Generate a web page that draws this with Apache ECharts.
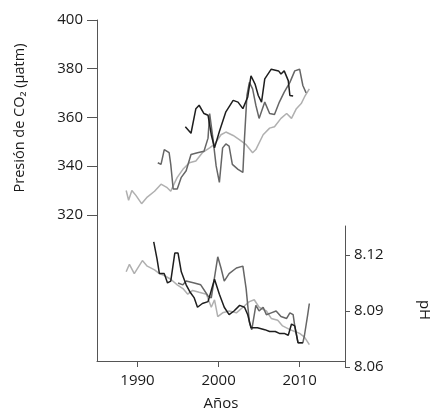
<!DOCTYPE html>
<html>
<head>
<meta charset="utf-8">
<style>html,body{margin:0;padding:0;background:#fff}#c{width:434px;height:416px}</style>
<script src="https://cdn.jsdelivr.net/npm/echarts@6/dist/echarts.min.js"></script>
</head>
<body>
<div id="c"></div>
<script>
// ---- Data ----
var xTicks = [1990, 2000, 2010];
var co2Ticks = [320, 340, 360, 380, 400];
var phTicks = [8.06, 8.09, 8.12];

// CO2 (µatm)
var co2LightYears = [1988.6,1988.9,1989.3,1989.8,1990.5,1991.2,1992.1,1992.9,1993.6,1994.1,1994.5,1994.9,1995.6,1996.4,1997.2,1998.0,1998.9,1999.5,2000.3,2000.9,2001.8,2002.6,2003.4,2004.2,2004.6,2005.5,2006.3,2006.9,2007.7,2008.4,2009.0,2009.6,2010.2,2010.6,2011.2];
var co2LightVals  = [330,326,330,328,324.6,327.3,329.7,332.6,331.3,329.7,332.6,335.4,338.7,341.4,342.1,345.5,347.5,349,352.9,354,352.6,350.8,348.8,345.5,346.8,352.9,355.6,356.2,359.6,361.6,359.6,363.6,365.7,368.4,371.7];

var co2BlackYears = [1995.9,1996.6,1997.2,1997.6,1998.2,1998.7,1999.1,1999.5,2000.1,2000.9,2001.8,2002.4,2003.0,2003.6,2004.0,2004.5,2004.9,2005.3,2005.7,2006.5,2007.4,2007.7,2008.1,2008.6,2008.8,2009.2];
var co2BlackVals  = [356.2,353.5,363.6,365,361.6,360.9,352.9,347.5,354.2,362.3,367,366.3,363.6,368.4,377.1,373.7,369,366.3,375.8,379.8,379.1,377.8,379.1,375.1,369,368.8];

var co2MidYears = [1992.5,1992.9,1993.3,1993.9,1994.1,1994.4,1994.9,1995.4,1996.0,1996.6,1997.4,1998.2,1998.7,1998.9,1999.3,1999.7,2000.1,2000.5,2000.9,2001.3,2001.7,2002.4,2003.0,2003.2,2003.5,2003.8,2004.2,2004.6,2005.0,2005.7,2006.3,2006.9,2007.5,2008.1,2008.8,2009.4,2010.0,2010.4,2010.8];
var co2MidVals  = [341.4,340.7,346.8,345.5,340.7,330.6,330.6,335.4,338.1,344.8,345.5,346.1,351.5,361.6,351.5,340.1,333.3,347.5,349.1,348.2,340.7,338.7,337.4,351.5,369,374.4,371.7,365,359.6,366.3,361.6,361.2,366.3,370.4,374.4,379.1,379.8,373.1,370.1];

// pH
var phLightYears = [1988.6,1989.0,1989.6,1990.6,1991.2,1992.1,1992.7,1993.3,1994.1,1994.9,1995.6,1996.2,1996.8,1997.6,1998.5,1999.1,1999.5,1999.9,2000.5,2001.3,2002.2,2003.0,2003.8,2004.4,2005.0,2005.9,2006.5,2007.3,2007.9,2008.8,2009.4,2010.0,2010.6,2011.2];
var phLightVals  = [8.111,8.115,8.110,8.117,8.114,8.112,8.110,8.109,8.107,8.104,8.102,8.099,8.101,8.100,8.099,8.092,8.096,8.087,8.089,8.090,8.089,8.092,8.095,8.096,8.092,8.090,8.086,8.085,8.082,8.080,8.079,8.078,8.076,8.072];

var phBlackYears = [1992.0,1992.4,1992.7,1993.3,1993.7,1994.1,1994.6,1995.0,1995.4,1996.0,1996.5,1997.0,1997.4,1998.0,1998.7,1999.1,1999.5,2000.1,2000.7,2001.3,2001.9,2002.6,2003.2,2003.6,2004.0,2004.8,2005.7,2006.3,2007.0,2007.5,2008.1,2008.6,2009.0,2009.4,2009.8,2010.4];
var phBlackVals  = [8.127,8.118,8.110,8.110,8.105,8.106,8.121,8.121,8.111,8.104,8.100,8.097,8.092,8.094,8.095,8.101,8.107,8.099,8.092,8.088,8.090,8.093,8.092,8.088,8.081,8.081,8.080,8.079,8.079,8.078,8.078,8.077,8.083,8.082,8.073,8.073];

var phMidYears = [1995.0,1995.6,1996.0,1997.0,1997.8,1998.7,1999.1,1999.9,2000.3,2000.7,2001.3,2002.2,2003.0,2003.4,2003.8,2004.1,2004.6,2005.0,2005.5,2005.9,2006.5,2007.1,2007.7,2008.4,2008.8,2009.2,2009.4,2009.8,2010.4,2010.6,2011.0,2011.2];
var phMidVals  = [8.105,8.104,8.106,8.105,8.104,8.098,8.097,8.119,8.113,8.106,8.110,8.113,8.114,8.102,8.084,8.080,8.093,8.090,8.092,8.088,8.089,8.090,8.087,8.086,8.089,8.088,8.082,8.073,8.073,8.077,8.088,8.094];

function pairs(xs, ys) { return xs.map(function (x, i) { return [x, ys[i]]; }); }

var FONT = 'Open Sans';
var AX = '#555';
var TXT = '#1a1a1a';
var C_BLACK = '#1e1e1e', C_MID = '#666666', C_LIGHT = '#b0b0b0';

function lineSeries(name, xs, ys, color, xi, yi, z) {
  return {
    name: name, type: 'line', xAxisIndex: xi, yAxisIndex: yi,
    data: pairs(xs, ys), showSymbol: false, symbol: 'none', clip: false, z: z,
    lineStyle: { color: color, width: 1.5 }, animation: false
  };
}

var chart = echarts.init(document.getElementById('c'), null, { renderer: 'canvas' });
chart.setOption({
  animation: false,
  backgroundColor: '#fff',
  grid: [
    { left: 97, top: 20, width: 248, height: 347 },
    { left: 97, top: 226, width: 248, height: 141 }
  ],
  xAxis: [
    {
      gridIndex: 0, type: 'value', min: 1985, max: 2015.6,
      name: 'Años', nameLocation: 'middle', nameGap: 35,
      nameTextStyle: { fontFamily: FONT, fontSize: 15, color: TXT },
      axisLine: { show: true, onZero: false, lineStyle: { color: AX, width: 1 } },
      axisTick: { show: true, length: 6, customValues: xTicks, lineStyle: { color: AX } },
      axisLabel: { show: true, customValues: xTicks, margin: 12, fontFamily: FONT, fontSize: 15, color: TXT,
        formatter: function (v) { return String(Math.round(v)); } },
      splitLine: { show: false }
    },
    {
      gridIndex: 1, type: 'value', min: 1985, max: 2015.6, show: false
    }
  ],
  yAxis: [
    {
      gridIndex: 0, type: 'value', min: 260, max: 400, position: 'left',
      axisLine: { show: true, onZero: false, lineStyle: { color: AX, width: 1 } },
      axisTick: { show: true, length: 10, customValues: co2Ticks, lineStyle: { color: AX } },
      axisLabel: { show: true, customValues: co2Ticks, margin: 14, fontFamily: FONT, fontSize: 15, color: TXT,
        formatter: function (v) { return String(Math.round(v)); } },
      splitLine: { show: false }
    },
    {
      gridIndex: 1, type: 'value', min: 8.06, max: 8.1355, position: 'right',
      axisLine: { show: true, onZero: false, lineStyle: { color: AX, width: 1 } },
      axisTick: { show: true, length: 5, customValues: phTicks, lineStyle: { color: AX } },
      axisLabel: { show: true, customValues: phTicks, margin: 9, fontFamily: FONT, fontSize: 15, color: TXT,
        formatter: function (v) { return v.toFixed(2); } },
      splitLine: { show: false }
    }
  ],
  graphic: [
    {
      type: 'text', x: 20, y: 118, rotation: Math.PI / 2,
      style: { text: 'Presión de CO₂ (µatm)', fontFamily: FONT, fontSize: 14.5, fill: TXT,
        align: 'center', verticalAlign: 'middle' }
    },
    {
      type: 'text', x: 424, y: 310, rotation: -Math.PI / 2,
      style: { text: 'pH', fontFamily: FONT, fontSize: 15, fill: TXT,
        align: 'center', verticalAlign: 'middle' }
    }
  ],
  series: [
    lineSeries('co2Light', co2LightYears, co2LightVals, C_LIGHT, 0, 0, 2),
    lineSeries('co2Mid', co2MidYears, co2MidVals, C_MID, 0, 0, 3),
    lineSeries('co2Black', co2BlackYears, co2BlackVals, C_BLACK, 0, 0, 4),
    lineSeries('phLight', phLightYears, phLightVals, C_LIGHT, 1, 1, 2),
    lineSeries('phMid', phMidYears, phMidVals, C_MID, 1, 1, 3),
    lineSeries('phBlack', phBlackYears, phBlackVals, C_BLACK, 1, 1, 4)
  ]
});
</script>
</body>
</html>
